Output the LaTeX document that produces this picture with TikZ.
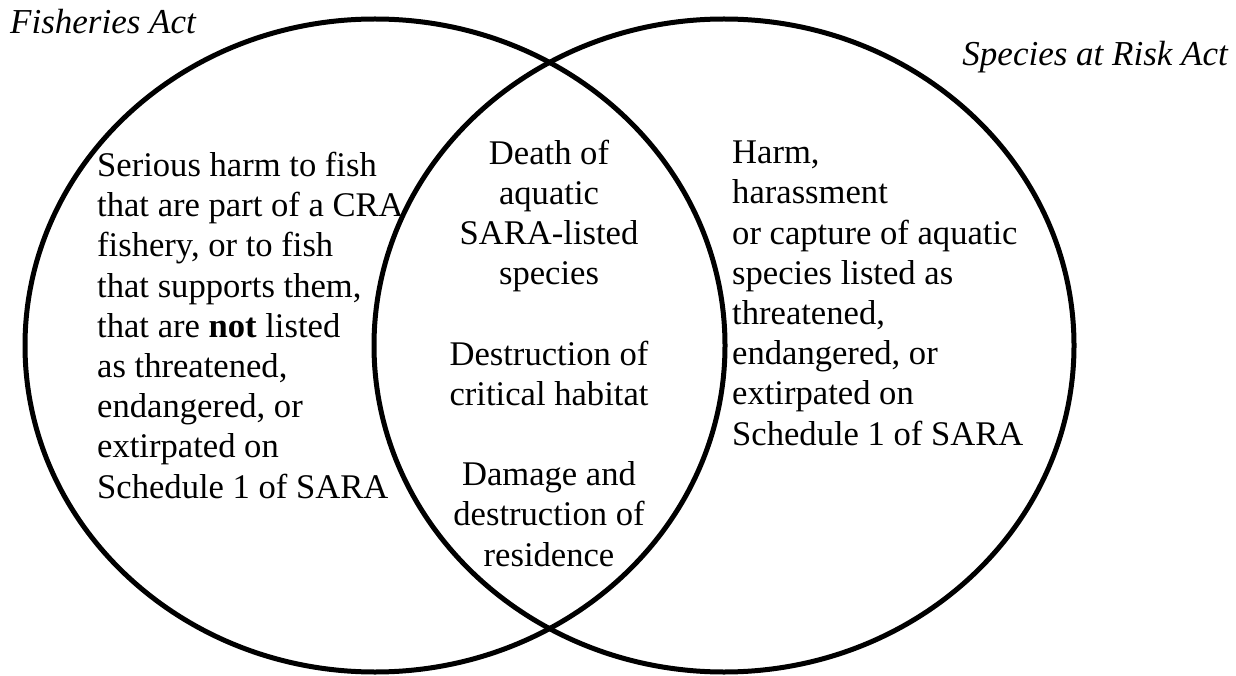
\documentclass[tikz,border=0pt]{standalone}
\usepackage{fontspec}
\setmainfont{Liberation Serif}
\usetikzlibrary{shapes.geometric}
\begin{document}
\begin{tikzpicture}[x=1pt,y=-1pt,
  setring/.style={ellipse, draw=black, line width=5pt, inner sep=0pt,
    minimum width=700pt, minimum height=653pt},
  body/.style={font=\fontsize{34.6}{40.2}\selectfont, inner sep=0pt, text=black},
  acttitle/.style={font=\fontsize{35}{39}\selectfont\itshape, inner sep=0pt, text=black}]
\useasboundingbox (0,0) rectangle (1236,676);
\node[setring] (fishring) at (375,345.5) {};
\node[setring] (sararing) at (724,345.5) {};
\node[acttitle, anchor=base west] (fishact) at (10,34) {Fisheries Act};
\node[acttitle, anchor=base east] (saraact) at (1228,66) {Species at Risk Act};
\node[body, align=left, anchor=base west] (lefttext) at (97,498)
  {Serious harm to fish\\that are part of a CRA\\fishery, or to fish\\that supports them,\\that are \textbf{not} listed\\as threatened,\\endangered, or\\extirpated on\\Schedule 1 of SARA};
\node[body, align=center, anchor=base] (midtext) at (549,566)
  {Death of\\aquatic\\SARA-listed\\species\\[40.2pt]Destruction of\\critical habitat\\[40.2pt]Damage and\\destruction of\\residence};
\node[body, align=left, anchor=base west] (righttext) at (732,445)
  {Harm,\\harassment\\or capture of aquatic\\species listed as\\threatened,\\endangered, or\\extirpated on\\Schedule 1 of SARA};
\end{tikzpicture}
\end{document}
